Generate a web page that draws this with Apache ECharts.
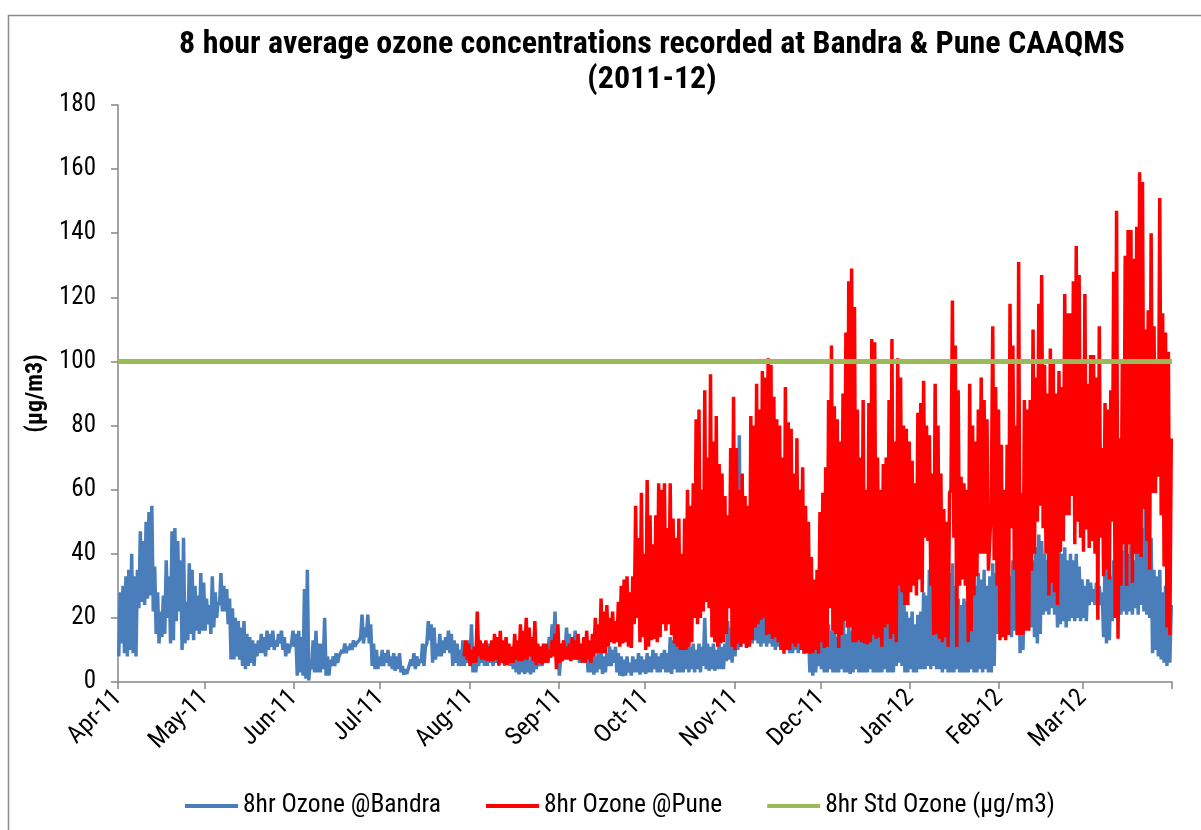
<!DOCTYPE html>
<html>
<head>
<meta charset="utf-8">
<script src="https://cdn.jsdelivr.net/npm/echarts@6/dist/echarts.min.js"></script>
<style>
html,body{margin:0;padding:0;background:#fff;}
#chart{width:1201px;height:830px;}
</style>
</head>
<body>
<div id="chart"></div>
<script>
// Month tick positions (days since 1 Apr 2011) and labels
const monthStartDays = [0,30,61,91,122,153,183,214,244,275,306,335,366];
const monthLabels = ['Apr-11','May-11','Jun-11','Jul-11','Aug-11','Sep-11','Oct-11','Nov-11','Dec-11','Jan-12','Feb-12','Mar-12',''];
const yTicks = [0,20,40,60,80,100,120,140,160,180];

// Bandra: daily high / low of the 8-hr averages (day 0 = 1 Apr 2011)
const bandraHi = [
28,30,33,35,40,33,35,47,44,50, 53,55,36,28,22,27,38,33,47,48, 44,38,45,25,37,35,30,27,34,31,
26,24,33,28,25,34,30,29,26,23, 20,19,17,19,15,14,13,12,13,15, 14,16,15,16,13,15,16,14,12,11,
16,15,16,14,29,35,6,13,16,12, 12,20,8,7,8,9,8,10,12,11, 12,13,12,13,21,17,21,18,12,10,
8,10,9,10,8,9,8,9,5,4, 4,7,9,8,7,12,11,19,18,17, 12,15,13,14,16,15,13,12,10,13,
12,13,18,10,9,10,12,11,12,10, 11,12,10,11,12,11,10,12,9,8, 8,9,7,9,8,9,11,10,11,14,
18,22,15,8,13,17,15,14,16,12, 11,12,10,9,10,8,9,10,8,9, 11,10,11,9,8,7,8,6,8,7,
9,8,7,9,8,10,9,8,9,10, 9,14,13,15,11,12,10,12,11,12, 10,12,11,20,12,11,12,10,12,11,
12,19,17,18,15,77,30,16,14,15, 22,33,28,30,27,29,26,30,24,25, 22,25,21,20,17,16,17,15,17,16,
12,11,10,17,15,26,18,16,18,14, 17,25,15,18,16,22,25,20,24,18, 22,25,19,18,20,17,21,19,16,20,
30,47,40,22,20,22,18,21,22,28, 27,35,42,38,40,33,36,38,34,37, 30,26,24,26,25,33,35,30,34,32,
35,30,33,37,34,35,33,30,32,33, 38,43,40,36,30,39,35,38,42,46, 44,40,38,36,40,37,44,40,42,38,
40,38,40,36,32,30,32,31,29,31, 30,28,37,35,33,38,42,40,41,43, 40,43,38,41,50,48,56,52,45,35,
33,35,28,30,26,24
];
const bandraLo = [
8,12,9,8,10,9,8,23,25,24, 26,27,22,15,12,14,15,20,12,13, 19,22,10,12,13,15,13,16,15,16,
16,18,15,17,20,24,22,22,18,7, 7,8,7,5,4,5,6,5,8,9, 9,8,10,11,10,11,12,10,8,9,
12,11,2,3,2,1,0.5,4,3,3, 3,4,2,2,5,5,6,8,9,9, 10,10,11,12,14,12,14,12,5,4,
4,5,5,6,5,4,3.5,4,3,2.3, 2.5,4,5,4,5,6,5,12,13,6, 7,8,8,9,10,9,5,6,5,5,
5,6,6,3,3,5,6,5,5,6, 5,6,5,6,5,6,5,4,3,2.4, 3,2.5,3,2.4,3,4,5,5,6,9,
10,11,9,2,7,9,10,9,9,7, 6,7,6,3,3,2.3,3,4,2.5,3, 5,5,6,3,2,1.8,2,3,2,3,
3,2.3,3,2.5,3,3,4,3,3,4, 3,3,2.5,4,3,3,3,4,3,4, 3,4,3,5,4,3.5,4,3.5,4,4,
4,6.5,7,6,8,10,11,12,11,12, 12,13,12,11,12,11,12,11,10,11, 10,11,10,9,9,10,9,10,9,9,
3,2,3,5,4,3,3,4,3,3, 3,4,3,3,2.5,3,4,3,3,3, 3,4,3,3,3,3,4,3,3,3,
5,6,5,3,3,4,3,3,4,4, 4,5,4,5,4,4,3,4,3,3, 3,4,3,3,3,3,4,3,3,4,
3,4,3,3,5,15,16,18,17,16, 14,16,15,9,10,17,18,17,14,12, 15,21,22,21,23,21,17,18,19,17,
19,20,19,20,19,20,19,24,25,24, 25,24,14,12,13,19,20,19,21,22, 21,22,21,23,21,24,22,21,20,9,
10,8,7,6,5,6
];

// Pune: daily high / low of the 8-hr averages, starting at day 120 (30 Jul 2011)
const puneStartDay = 120;
const puneHi = [
13,12,10,11,22,13,12,13,11,13, 15,14,16,13,14,12,11,15,13,18, 16,20,17,14,19,12,11,12,12,10,
13,15,18,12,13,11,12,14,13,15, 12,14,16,13,15,20,18,26,22,24, 20,22,19,25,30,32,33,28,33,55,
45,59,40,63,52,43,52,62,60,62, 48,62,51,45,51,40,51,60,55,62, 82,85,60,91,70,96,75,83,68,65,
58,52,73,89,73,60,65,58,55,83, 80,93,85,97,95,101,99,89,82,80, 70,92,81,79,65,76,60,67,55,50,
39,32,35,53,59,67,88,105,86,82, 75,90,109,125,129,117,85,70,88,60, 87,107,106,70,60,68,70,88,107,75,
101,95,80,79,75,69,62,84,87,94, 80,77,65,93,80,65,54,50,59,119, 105,91,64,62,60,93,80,75,85,95,
88,82,45,111,92,85,74,60,74,118, 105,80,131,59,88,85,88,110,95,118, 127,99,90,104,100,90,97,92,121,115,
115,125,136,127,100,121,93,102,102,95, 111,73,87,85,91,128,147,76,100,133, 141,141,132,142,159,156,110,116,140,111,
100,151,115,109,103,76
];
const puneLo = [
8,7,5,6,6,8,7,7,6.5,6.5, 6.5,7,5.3,6,5.5,5.3,6,6,7,6.5, 6.5,7,7,8,6.5,5.3,6,5.5,6,6,
7.6,8,4,6,6.5,7,7,6.5,7,7, 7,6,6,7,6,8,9,9,9,9, 11,12.4,12,12.4,11,12,12.4,11,10.6,18,
20,12.4,14,10,11,13,13.4,12.4,14,18, 16,18,14.7,12,11,10,10,10,11,12.4, 20,18,20,22,25,23,14,12.4,11,12,
12.4,15,23,11,10,12,11,12,10.6,11, 13,17,18,19.4,20,14.7,15,13.5,14,12.4, 10,8.8,10,10,12,11,12,10,8.8,9,
8.8,9,10,8.8,12.4,10.6,11,23,16,15, 10.6,14.7,19,17,17,12.4,12.4,13,12.4,12, 11.8,12.4,14.7,13.5,14,11,17,18,13.5,15,
12.4,30,28,24,24,28,30,27,32,28, 45,44,30,14.7,15,13.5,12.4,14,11,60, 45,11,30,32,30,12.4,15.8,27,33,40,
40,40,34.7,55,38,30,13,14,13,14.7, 48,35,14.7,14.7,14.7,16,16,34.7,40,50, 55,48,40,27,31,28,24,40.6,44,52,
52,58,43,50,45,40.6,47.6,41.8,44,40, 19.4,45,33,35,32,50,20,13.5,30,43, 30,43,31,40,40,39,54,44,35,59,
59,64,52,36,17,14.7
];

// 8-hr standard for ozone
const stdValue = 100;

function toPoints(startDay, lo, hi){
  const pts = [];
  for (let i = 0; i < hi.length; i++){
    const d = startDay + i;
    pts.push([d + 0.25, lo[i]]);
    pts.push([d + 0.75, hi[i]]);
  }
  return pts;
}

const FONT = "'Liberation Sans Narrow','Arial Narrow','Roboto Condensed','Liberation Sans',Arial,sans-serif";
const chart = echarts.init(document.getElementById('chart'), null, {renderer:'canvas'});

chart.setOption({
  backgroundColor:'#ffffff',
  animation:false,
  textStyle:{fontFamily:FONT},
  graphic:[{
    type:'rect', shape:{x:8.5,y:15.5,width:1300,height:900},
    style:{fill:'none',stroke:'#8c8c8c',lineWidth:1.5}, silent:true, z:-10
  }],
  title:{
    text:'8 hour average ozone concentrations recorded at Bandra & Pune CAAQMS\n(2011-12)',
    left:647, top:22, textAlign:'center',
    textStyle:{fontFamily:FONT,fontSize:32,fontWeight:'bold',color:'#000',lineHeight:35}
  },
  legend:{
    left:180, top:788, itemWidth:53, itemHeight:4, itemGap:45,
    textStyle:{fontFamily:FONT,fontSize:25.5,color:'#000',padding:[0,0,0,0]},
    data:[
      {name:'8hr Ozone @Bandra',icon:'rect'},
      {name:'8hr Ozone @Pune',icon:'rect'},
      {name:'8hr Std Ozone (µg/m3)',icon:'rect'}
    ]
  },
  grid:{left:118,right:29,top:105,bottom:148,containLabel:false},
  xAxis:{
    type:'value', min:0, max:366,
    axisLine:{lineStyle:{color:'#868686',width:1.5}},
    axisTick:{show:true,inside:false,length:7,customValues:monthStartDays,lineStyle:{color:'#868686',width:1.5}},
    axisLabel:{
      customValues:monthStartDays.slice(0,12), rotate:45, margin:12,
      fontFamily:FONT, fontSize:25, color:'#000',
      formatter:function(v){ const i = monthStartDays.indexOf(Math.round(v)); return i>=0 ? monthLabels[i] : ''; }
    },
    splitLine:{show:false}
  },
  yAxis:{
    type:'value', min:yTicks[0], max:yTicks[yTicks.length-1], interval:20,
    name:'(µg/m3)', nameLocation:'middle', nameGap:68, nameRotate:90,
    nameTextStyle:{fontFamily:FONT,fontSize:24,fontWeight:'bold',color:'#000'},
    axisLine:{show:true,lineStyle:{color:'#868686',width:1.5}},
    axisTick:{show:true,inside:false,length:7,lineStyle:{color:'#868686',width:1.5}},
    axisLabel:{fontFamily:FONT,fontSize:25,color:'#000',margin:22},
    splitLine:{show:false}
  },
  series:[
    {name:'8hr Ozone @Bandra',type:'line',symbol:'none',data:toPoints(0,bandraLo,bandraHi),
     lineStyle:{color:'#4A7EBB',width:3.5},itemStyle:{color:'#4A7EBB'},z:2},
    {name:'8hr Ozone @Pune',type:'line',symbol:'none',data:toPoints(puneStartDay,puneLo,puneHi),
     lineStyle:{color:'#FF0000',width:3.5},itemStyle:{color:'#FF0000'},z:3},
    {name:'8hr Std Ozone (µg/m3)',type:'line',symbol:'none',data:[[0,stdValue],[366,stdValue]],
     lineStyle:{color:'#9BBB59',width:5},itemStyle:{color:'#9BBB59'},z:4}
  ]
});
</script>
</body>
</html>
